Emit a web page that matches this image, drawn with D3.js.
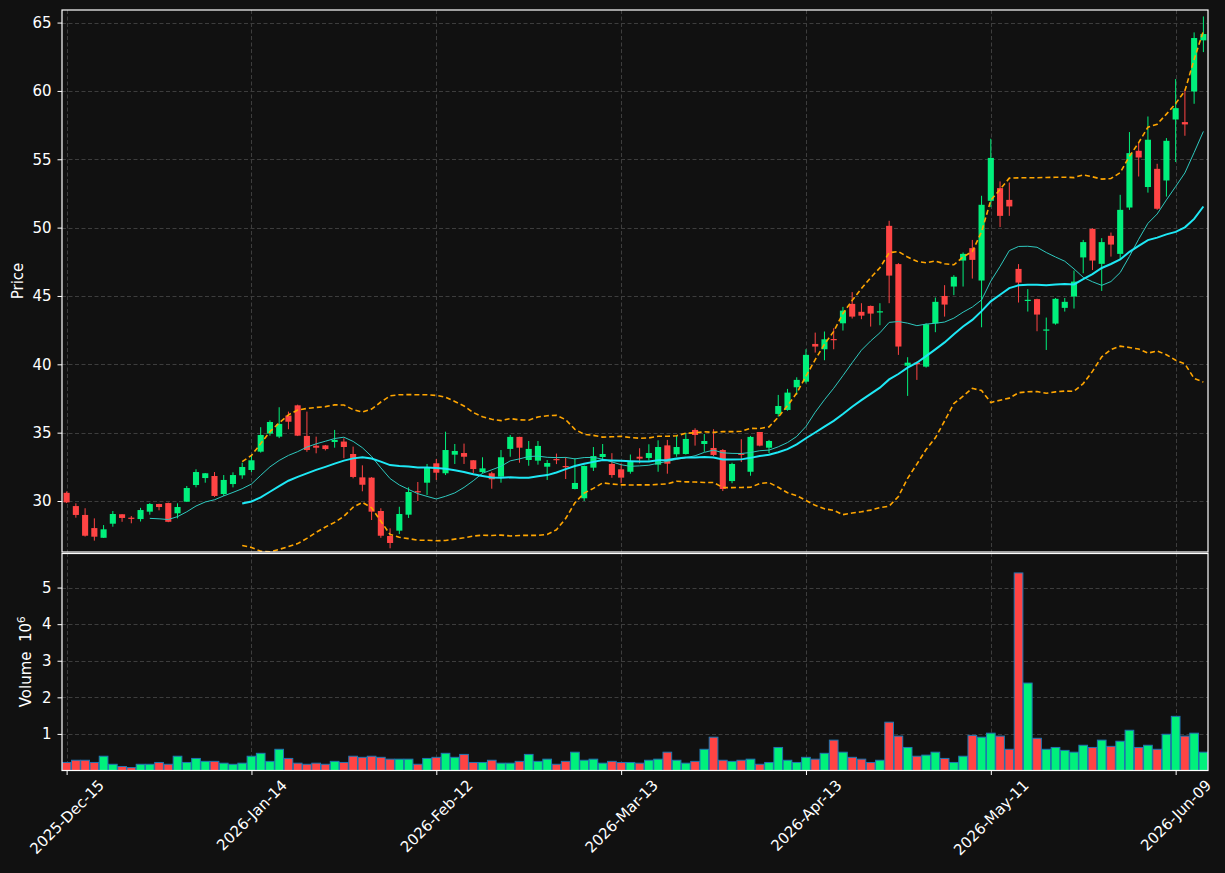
<!DOCTYPE html>
<html><head><meta charset="utf-8">
<script src="https://cdn.jsdelivr.net/npm/d3@7"></script>
<style>html,body{margin:0;padding:0;background:#111111;} svg{display:block}</style>
</head><body>
<svg id="chart" width="1225" height="873"></svg>
<script>
// ---------- data ----------
const opens = [30.6,29.63,28.98,28.02,27.31,28.34,29.03,28.78,28.68,29.22,29.78,29.85,29.1,29.95,31.17,31.68,31.83,30.51,31.24,31.88,
32.27,33.61,34.93,34.71,36.25,37.0,34.76,34.05,34.07,34.32,34.35,33.44,31.73,31.71,29.27,27.44,27.83,29.0,30.72,31.34,
32.76,32.03,33.39,33.51,32.98,32.12,32.03,31.78,33.81,34.69,33.0,32.95,32.51,33.07,32.56,30.88,30.2,32.44,33.22,32.71,
32.32,32.14,33.24,33.15,32.66,34.07,33.42,33.44,35.2,34.17,33.88,33.73,31.46,33.46,32.14,35.05,33.9,36.37,36.66,38.32,
38.73,41.49,41.1,41.85,43.0,44.42,43.84,44.27,43.83,50.13,47.33,39.9,40.12,39.83,43.0,45.0,45.69,47.59,48.5,46.13,
51.96,52.89,52.03,46.98,44.68,44.77,42.5,42.98,44.13,44.96,47.82,49.91,47.35,49.4,48.08,51.47,55.62,52.97,54.3,53.45,
57.91,57.72,59.96,63.7];
const highs = [30.7,29.83,29.47,28.73,28.24,29.27,29.05,28.9,29.5,29.85,29.8,29.88,29.83,31.1,32.32,32.05,32.12,31.9,32.1,32.8,
33.4,35.4,35.9,36.86,36.54,37.05,36.54,34.71,34.1,35.2,34.59,33.98,32.61,31.75,29.47,28.0,29.58,31.0,31.39,32.71,
33.07,35.07,34.17,34.2,33.0,33.2,32.14,33.73,34.83,34.7,34.39,34.39,33.0,33.47,33.2,33.13,32.6,33.95,34.17,33.5,
32.76,33.4,33.86,34.15,34.44,34.47,34.76,34.98,35.32,34.9,35.25,33.8,32.8,34.52,34.76,35.05,34.47,37.76,38.2,39.05,
41.1,42.32,42.4,42.64,44.2,45.28,44.47,44.3,44.47,50.5,47.4,40.52,40.2,43.0,44.88,45.79,46.52,48.18,49.1,52.33,
56.5,53.38,53.3,47.33,45.5,44.8,43.42,44.85,44.85,46.86,49.1,49.95,49.23,49.64,52.4,56.99,56.18,58.13,54.67,56.55,
60.87,60.09,64.28,65.45];
const lows = [29.85,28.78,27.4,27.1,27.3,28.12,28.48,28.37,28.5,29.0,29.32,28.45,28.73,29.95,31.0,31.34,30.3,30.37,31.0,31.63,
32.12,33.54,34.78,34.6,35.25,34.75,33.6,33.49,33.7,33.9,33.13,31.66,30.71,28.61,27.31,26.54,27.58,28.76,30.0,30.44,
31.54,31.9,32.71,32.71,32.03,32.03,30.9,31.34,33.24,32.8,32.58,32.66,31.54,32.7,31.61,30.85,30.0,32.2,33.0,31.7,
31.3,32.0,32.76,32.95,32.14,32.0,33.24,33.4,34.05,33.6,33.29,30.73,31.3,32.85,31.85,34.0,33.5,36.17,36.6,37.76,
38.6,40.86,40.3,41.1,42.47,43.35,43.3,42.76,42.86,44.47,40.69,37.69,38.86,39.76,42.35,43.49,45.06,45.69,46.27,42.71,
51.5,50.04,50.86,44.52,43.86,42.42,41.05,42.9,43.86,44.08,46.66,46.9,45.37,47.88,47.71,51.3,53.74,52.56,51.3,52.27,
54.8,56.72,59.06,62.84];
const closes = [29.9,28.98,27.46,27.39,27.93,29.05,28.76,28.72,29.34,29.78,29.56,28.48,29.56,30.95,32.12,32.03,30.37,31.54,31.9,32.49,
32.98,34.83,35.78,35.64,35.8,34.78,33.73,33.9,33.8,34.47,33.95,31.76,31.19,29.22,27.46,26.93,29.05,30.66,30.68,32.47,
32.07,33.73,33.66,33.24,32.34,32.39,31.59,33.2,34.69,33.9,33.81,34.03,32.78,33.03,32.47,31.32,32.56,33.29,33.44,31.9,
31.71,32.88,33.1,33.51,33.95,32.73,33.95,34.54,34.83,34.39,33.37,30.88,32.71,33.39,34.69,34.05,34.39,36.95,37.93,38.86,
40.69,41.3,41.83,41.8,43.93,43.49,43.56,43.71,43.88,46.49,41.3,40.12,40.0,42.93,44.57,44.37,46.4,48.08,47.64,51.67,
55.1,50.86,51.55,45.98,44.72,43.64,42.55,44.79,44.57,46.05,48.94,47.59,48.94,48.76,51.3,55.45,55.13,56.43,51.38,56.35,
58.74,57.55,63.87,64.16];
// volume in millions
const volumes = [0.22,0.28,0.28,0.22,0.39,0.17,0.11,0.08,0.17,0.17,0.22,0.17,0.39,0.22,0.33,0.25,0.25,0.2,0.17,0.2,
0.39,0.47,0.25,0.58,0.33,0.2,0.17,0.2,0.17,0.25,0.22,0.39,0.36,0.39,0.36,0.31,0.31,0.31,0.17,0.33,
0.36,0.47,0.36,0.44,0.22,0.22,0.28,0.2,0.2,0.25,0.44,0.25,0.31,0.17,0.25,0.5,0.28,0.31,0.2,0.25,
0.22,0.22,0.2,0.28,0.31,0.5,0.28,0.2,0.25,0.58,0.91,0.28,0.25,0.28,0.31,0.17,0.22,0.63,0.28,0.22,
0.36,0.31,0.47,0.83,0.5,0.36,0.31,0.22,0.28,1.32,0.94,0.63,0.39,0.42,0.5,0.33,0.22,0.39,0.96,0.91,
1.02,0.94,0.58,5.4,2.39,0.88,0.58,0.63,0.55,0.5,0.69,0.63,0.83,0.66,0.8,1.1,0.63,0.69,0.58,0.99,
1.48,0.94,1.02,0.5];
const tickIndex = [0,20,40,60,80,100,120];
const tickLabels = ["2025-Dec-15","2026-Jan-14","2026-Feb-12","2026-Mar-13","2026-Apr-13","2026-May-11","2026-Jun-09"];
const priceTicks = [30,35,40,45,50,55,60,65];
const volumeTicks = [1,2,3,4,5];

// ---------- indicators computed from the closes ----------
function sma(arr, n){ return arr.map((v,i)=> i<n-1 ? null : d3.mean(arr.slice(i-n+1,i+1))); }
function bands(arr, n, k){
  return arr.map((v,i)=>{
    if(i<n-1) return null;
    const w = arr.slice(i-n+1,i+1); const m = d3.mean(w);
    const s = Math.sqrt(d3.mean(w, d=>(d-m)*(d-m)));
    return {up:m+k*s, lo:m-k*s};
  });
}
const ma10 = sma(closes,10);
const ma20 = sma(closes,20);
const bb = bands(closes,20,2);

// ---------- layout ----------
const W=1225,H=873;
const L=62,R=1208, pTop=10, pBot=552, vTop=553, vBot=770.5;
const UP="#00f07c", DOWN="#ff4444", FG="#ffffff", GRID="#3d3d3d";
const FS = "15px";
const svg = d3.select("#chart");
svg.append("rect").attr("width",W).attr("height",H).attr("fill","#111111");

const n = closes.length;
const x = d3.scaleLinear().domain([-0.5, n-0.5]).range([L,R]);
const yP = d3.scaleLinear().domain([26.27, 65.92]).range([pBot,pTop]);
const yV = d3.scaleLinear().domain([0, 5.945]).range([vBot,vTop]);
const step = x(1)-x(0);

const defs = svg.append("defs");
defs.append("clipPath").attr("id","cp").append("rect").attr("x",L).attr("y",pTop).attr("width",R-L).attr("height",pBot-pTop);
defs.append("clipPath").attr("id","cv").append("rect").attr("x",L).attr("y",vTop).attr("width",R-L).attr("height",vBot-vTop);

// grids
const grid = svg.append("g").attr("stroke",GRID).attr("stroke-width",1).attr("stroke-dasharray","4,2.5");
grid.selectAll(".gp").data(priceTicks).join("line")
  .attr("x1",L).attr("x2",R).attr("y1",d=>Math.round(yP(d))+0.5).attr("y2",d=>Math.round(yP(d))+0.5);
grid.selectAll(".gv").data(volumeTicks).join("line")
  .attr("x1",L).attr("x2",R).attr("y1",d=>Math.round(yV(d))+0.5).attr("y2",d=>Math.round(yV(d))+0.5);
tickIndex.forEach(i=>{
  const xx = Math.round(x(i))+0.5;
  grid.append("line").attr("x1",xx).attr("x2",xx).attr("y1",pTop).attr("y2",pBot);
  grid.append("line").attr("x1",xx).attr("x2",xx).attr("y1",vTop).attr("y2",vBot);
});

// candles
const idx = d3.range(n);
const cg = svg.append("g").attr("clip-path","url(#cp)");
const bodyW = step*0.66;
cg.selectAll(".wick").data(idx).join("line")
  .attr("x1",i=>x(i)).attr("x2",i=>x(i))
  .attr("y1",i=>yP(highs[i])).attr("y2",i=>yP(lows[i]))
  .attr("stroke",i=>closes[i]>=opens[i]?UP:DOWN).attr("stroke-width",1);
cg.selectAll(".body").data(idx).join("rect")
  .attr("x",i=>x(i)-bodyW/2).attr("width",bodyW)
  .attr("y",i=>yP(Math.max(opens[i],closes[i])))
  .attr("height",i=>Math.max(1.2, Math.abs(yP(opens[i])-yP(closes[i]))))
  .attr("fill",i=>closes[i]>=opens[i]?UP:DOWN);

// indicator lines
const lineOf = (acc)=> d3.line().defined(i=>acc(i)!=null).x(i=>x(i)).y(i=>yP(acc(i)));
cg.append("path").datum(idx).attr("fill","none").attr("stroke","#ffa500").attr("stroke-width",1.6)
  .attr("stroke-dasharray","5,3").attr("d",lineOf(i=>bb[i]?bb[i].up:null));
cg.append("path").datum(idx).attr("fill","none").attr("stroke","#ffa500").attr("stroke-width",1.6)
  .attr("stroke-dasharray","5,3").attr("d",lineOf(i=>bb[i]?bb[i].lo:null));
cg.append("path").datum(idx).attr("fill","none").attr("stroke","#2ec8be").attr("stroke-width",1)
  .attr("d",lineOf(i=>ma10[i]));
cg.append("path").datum(idx).attr("fill","none").attr("stroke","#1ee8f5").attr("stroke-width",2)
  .attr("d",lineOf(i=>ma20[i]));

// volume bars
const vg = svg.append("g").attr("clip-path","url(#cv)");
const barW = step*0.94;
vg.selectAll("rect").data(idx).join("rect")
  .attr("x",i=>x(i)-barW/2).attr("width",barW)
  .attr("y",i=>yV(volumes[i])).attr("height",i=>yV(0)-yV(volumes[i]))
  .attr("fill",i=>closes[i]>=opens[i]?UP:DOWN)
  .attr("stroke","#1f77b4").attr("stroke-width",1);

// axes
const fontFam = "'DejaVu Sans', sans-serif";
const axP = svg.append("g").attr("transform",`translate(${L},0)`)
  .call(d3.axisLeft(yP).tickValues(priceTicks).tickSize(4.5).tickPadding(6).tickFormat(d3.format("d")));
const axV = svg.append("g").attr("transform",`translate(${L},0)`)
  .call(d3.axisLeft(yV).tickValues(volumeTicks).tickSize(4.5).tickPadding(6).tickFormat(d3.format("d")));
const axX = svg.append("g").attr("transform",`translate(0,${vBot})`)
  .call(d3.axisBottom(x).tickValues(tickIndex).tickSize(4.5).tickFormat((d,i)=>tickLabels[i]));
[axP,axV,axX].forEach(a=>{
  a.select(".domain").remove();
  a.selectAll(".tick line").attr("stroke",FG);
  a.selectAll("text").attr("fill",FG).attr("font-size",FS).attr("font-family",fontFam);
});
axX.selectAll(".tick text").each(function(){
  const t = d3.select(this);
  const w = this.getComputedTextLength();
  const ext = (w*Math.SQRT1_2 + 15*Math.SQRT1_2)/2;
  t.attr("text-anchor","middle").attr("dy",null).attr("y",null)
   .attr("dominant-baseline","central")
   .attr("transform",`translate(0,${7+ext}) rotate(-45)`);
});

// frames
const frame = svg.append("g").attr("fill","none").attr("stroke",FG).attr("stroke-width",1.2);
frame.append("rect").attr("x",L).attr("y",pTop).attr("width",R-L).attr("height",pBot-pTop);
frame.append("rect").attr("x",L).attr("y",vTop+0.5).attr("width",R-L).attr("height",vBot-vTop-0.5);

// axis labels
svg.append("text").attr("transform",`translate(23,${(pTop+pBot)/2}) rotate(-90)`)
  .attr("text-anchor","middle").attr("fill",FG).attr("font-size",FS).attr("font-family",fontFam).text("Price");
const vl = svg.append("text").attr("transform",`translate(31,${(vTop+vBot)/2}) rotate(-90)`)
  .attr("text-anchor","middle").attr("fill",FG).attr("font-size",FS).attr("font-family",fontFam)
  .attr("xml:space","preserve").style("white-space","pre");
vl.append("tspan").text("Volume\u00a0\u00a010");
vl.append("tspan").attr("font-size","10.5px").attr("dy","-6").text("6");
</script>
</body></html>
